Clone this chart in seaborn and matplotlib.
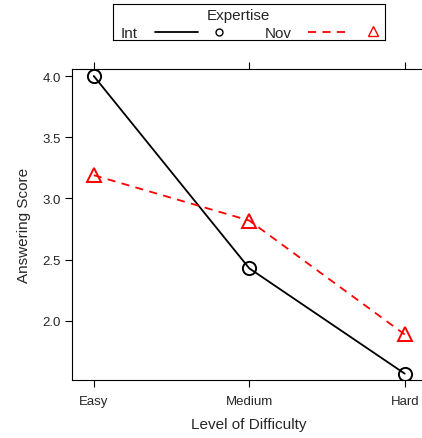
import pandas as pd
import numpy as np
import seaborn as sns
import matplotlib.pyplot as plt
from matplotlib.lines import Line2D

# data
levels = ['Easy', 'Medium', 'Hard']
int_score = [4.0, 2.43, 1.57]
nov_score = [3.19, 2.82, 1.89]

df = pd.DataFrame({
    'Level': levels * 2,
    'Score': int_score + nov_score,
    'Expertise': ['Int'] * 3 + ['Nov'] * 3,
})
df['pos'] = df['Level'].map({l: i for i, l in enumerate(levels)})

sns.set_style('white')
plt.rcParams['font.family'] = ['Liberation Sans', 'DejaVu Sans']

fig = plt.figure(figsize=(4.22, 4.39), dpi=100)
ax = fig.add_axes([0.1706, 0.1321, 0.840, 0.7084])

sns.lineplot(data=df, x='pos', y='Score', hue='Expertise', style='Expertise',
             palette={'Int': 'black', 'Nov': 'red'},
             dashes={'Int': '', 'Nov': (4.5, 3.5)},
             markers={'Int': 'o', 'Nov': '^'},
             markersize=9.5, markerfacecolor='none', markeredgewidth=1.4,
             linewidth=1.3, legend=False, ax=ax)
for ln, c in zip(ax.lines, ['black', 'red']):
    ln.set_markeredgecolor(c)

ax.set_xlim(-0.14, 2.14)
ax.set_ylim(1.518, 4.057)
ax.set_xticks(range(len(levels)))
ax.set_xticklabels(levels)
ax.set_yticks([2.0, 2.5, 3.0, 3.5, 4.0])
ax.set_yticklabels(['2.0', '2.5', '3.0', '3.5', '4.0'])
ax.tick_params(axis='both', direction='out', length=5, width=0.8, color='black',
               labelsize=9.5, pad=3)
ax.tick_params(axis='x', top=True, bottom=True, pad=6)
ax.tick_params(axis='y', left=True)
for s in ax.spines.values():
    s.set_color('black')
    s.set_linewidth(0.8)
ax.set_xlabel('Level of Difficulty', fontsize=11, labelpad=7)
ax.set_ylabel('Answering Score', fontsize=11, labelpad=8)

# lattice-style key on top
lax = fig.add_axes([113 / 422, 1 - 41 / 439, 272 / 422, 36 / 439])
lax.set_xlim(113, 385)
lax.set_ylim(41, 5)
lax.set_xticks([])
lax.set_yticks([])
for s in lax.spines.values():
    s.set_color('black')
    s.set_linewidth(0.8)
lax.text(238, 16, 'Expertise', ha='center', va='center', fontsize=11)
lax.text(121, 34, 'Int', ha='left', va='center', fontsize=11)
lax.add_line(Line2D([155, 198], [33, 33], color='black', lw=1.3))
lax.plot([219], [33], marker='o', ms=5, mfc='none', mec='black', mew=1.0)
lax.text(265, 34, 'Nov', ha='left', va='center', fontsize=11)
lax.add_line(Line2D([308, 347], [33, 33], color='red', lw=1.3, dashes=(4.5, 3.5)))
lax.plot([373], [32], marker='^', ms=7, mfc='none', mec='red', mew=1.0)

fig.savefig('out.png', dpi=100)
